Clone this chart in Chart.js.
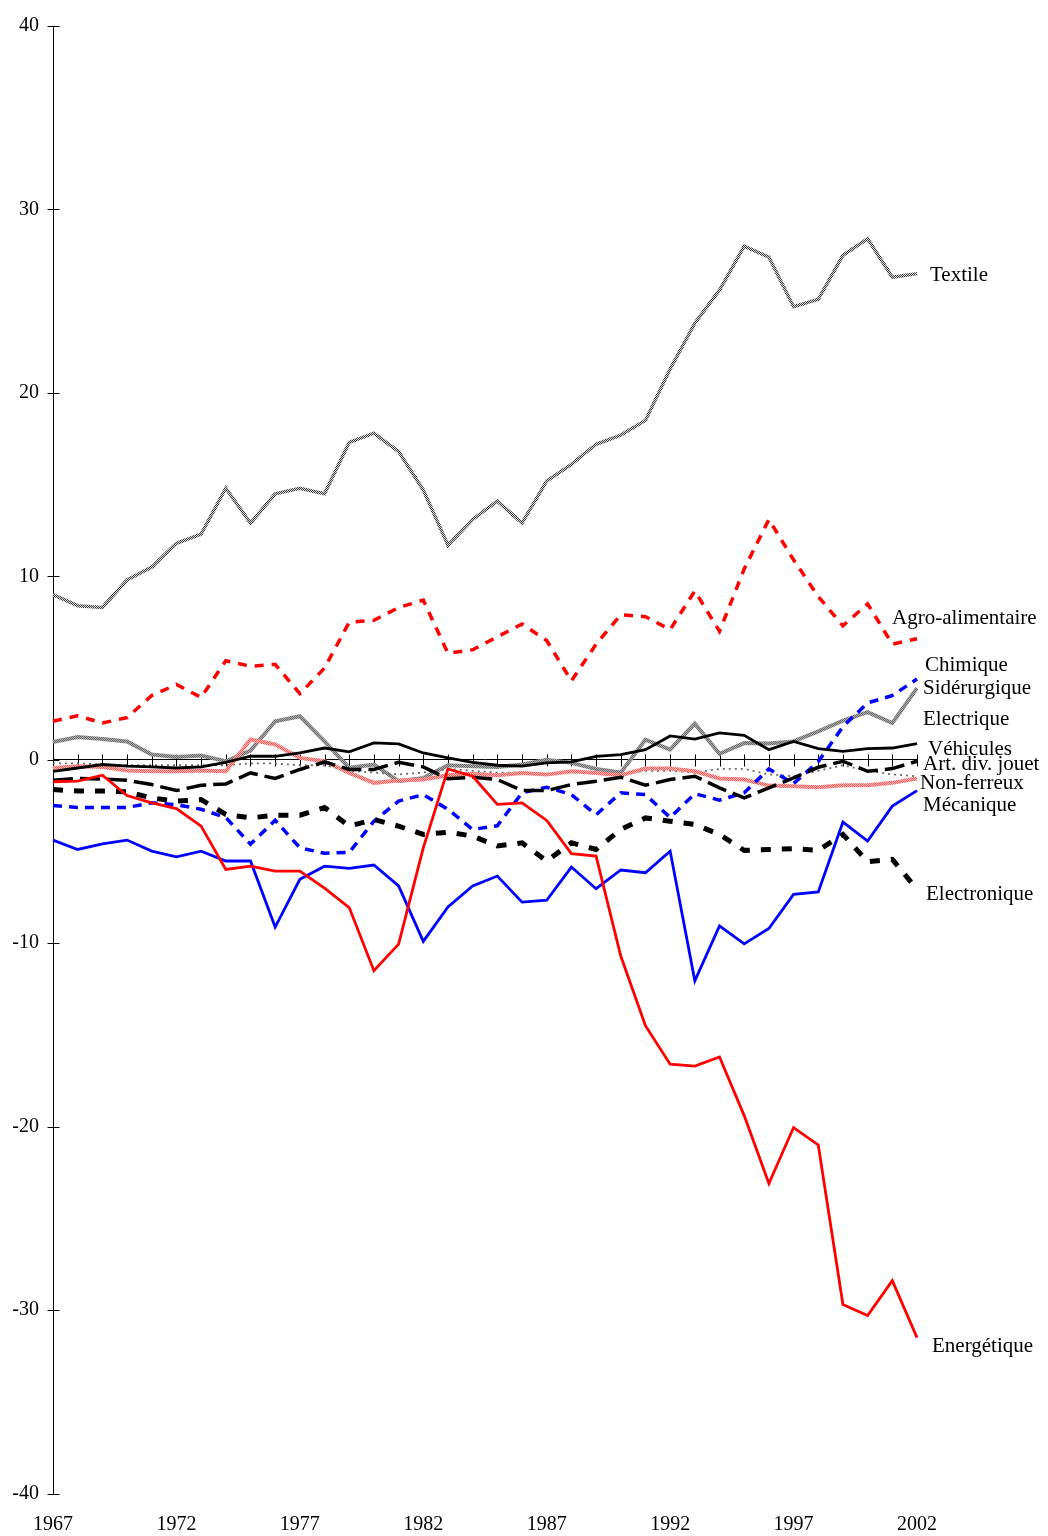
<!DOCTYPE html>
<html>
<head>
<meta charset="utf-8">
<script src="https://cdn.jsdelivr.net/npm/chart.js@4.4.1/dist/chart.umd.min.js"></script>
<style>
  html, body { margin: 0; padding: 0; background: #ffffff; }
  #wrap { width: 1048px; height: 1536px; position: relative; }
</style>
</head>
<body>
<div id="wrap"><canvas id="chart"></canvas></div>
<script>
// Years on the horizontal axis
const years = ['1967','1968','1969','1970','1971','1972','1973','1974','1975','1976',
  '1977','1978','1979','1980','1981','1982','1983','1984','1985','1986',
  '1987','1988','1989','1990','1991','1992','1993','1994','1995','1996',
  '1997','1998','1999','2000','2001','2002'];

// Sector balances, one value per year
const textile = [9.0, 8.4, 8.3, 9.8, 10.5, 11.8, 12.3, 14.8, 12.9, 14.5, 14.8, 14.5,
  17.3, 17.8, 16.8, 14.7, 11.7, 13.1, 14.1, 12.9, 15.2, 16.1, 17.2, 17.7,
  18.5, 21.3, 23.8, 25.6, 28.0, 27.4, 24.7, 25.1, 27.5, 28.4, 26.3, 26.5];
const agro = [2.1, 2.4, 2.0, 2.3, 3.5, 4.1, 3.4, 5.4, 5.1, 5.2, 3.6, 5.0,
  7.5, 7.6, 8.3, 8.7, 5.8, 6.0, 6.7, 7.4, 6.5, 4.3, 6.3, 7.9,
  7.8, 7.1, 9.2, 7.0, 10.4, 13.1, 10.9, 8.9, 7.3, 8.5, 6.3, 6.6];
const chimique = [-2.5, -2.6, -2.6, -2.6, -2.35, -2.45, -2.7, -3.15, -4.6, -3.3, -4.8, -5.1,
  -5.05, -3.35, -2.25, -1.9, -2.7, -3.8, -3.6, -1.8, -1.5, -1.9, -3.0, -1.8,
  -1.9, -3.15, -1.85, -2.2, -1.8, -0.5, -1.3, -0.1, 1.8, 3.1, 3.5, 4.4];
const siderurgique = [0.97, 1.24, 1.13, 1.0, 0.28, 0.15, 0.23, -0.08, 0.5, 2.1, 2.37, 1.0,
  -0.44, -0.26, -1.17, -0.99, -0.3, -0.35, -0.4, -0.26, 0.0, -0.17, -0.5, -0.7,
  1.1, 0.55, 1.97, 0.32, 0.91, 0.88, 1.0, 1.55, 2.13, 2.6, 2.0, 3.9];
const electrique = [-0.2, -0.2, -0.25, -0.3, -0.3, -0.3, -0.3, -0.3, -0.2, -0.2, -0.3, -0.3,
  -0.6, -0.7, -0.8, -0.7, -0.5, -0.6, -0.7, -0.7, -0.8, -0.7, -0.7, -0.8,
  -0.6, -0.6, -0.7, -0.5, -0.5, -0.8, -0.9, -0.6, -0.3, -0.6, -0.8, -0.9];
const vehicules = [-0.63, -0.45, -0.26, -0.35, -0.39, -0.45, -0.39, -0.14, 0.19, 0.19, 0.37, 0.64,
  0.43, 0.92, 0.86, 0.37, 0.1, -0.14, -0.3, -0.35, -0.17, -0.12, 0.19, 0.28,
  0.55, 1.3, 1.13, 1.46, 1.33, 0.55, 1.0, 0.61, 0.46, 0.61, 0.64, 0.88];
const artDivJouet = [-1.12, -1.02, -1.05, -1.12, -1.35, -1.68, -1.39, -1.32, -0.72, -1.02, -0.53, -0.12,
  -0.53, -0.53, -0.14, -0.39, -1.04, -0.95, -1.08, -1.68, -1.68, -1.35, -1.17, -0.95,
  -1.39, -1.08, -0.9, -1.53, -2.08, -1.53, -0.99, -0.41, -0.08, -0.63, -0.48, -0.08];
const nonFerreux = [-0.45, -0.35, -0.4, -0.59, -0.63, -0.63, -0.59, -0.63, 1.1, 0.83, 0.1, -0.08,
  -0.72, -1.26, -1.13, -1.08, -0.84, -0.77, -0.84, -0.72, -0.81, -0.63, -0.72, -0.84,
  -0.48, -0.48, -0.63, -1.02, -1.08, -1.41, -1.44, -1.5, -1.39, -1.39, -1.26, -1.02];
const mecanique = [-4.38, -4.89, -4.58, -4.38, -4.98, -5.29, -4.98, -5.52, -5.52, -9.12, -6.52, -5.8,
  -5.92, -5.74, -6.88, -9.9, -8.03, -6.88, -6.34, -7.76, -7.66, -5.85, -7.03, -6.01,
  -6.16, -4.98, -12.05, -9.06, -10.04, -9.2, -7.34, -7.21, -3.4, -4.43, -2.53, -1.68];
const electronique = [-1.62, -1.71, -1.71, -1.75, -2.08, -2.26, -2.17, -2.98, -3.17, -3.02, -3.02, -2.6,
  -3.62, -3.26, -3.62, -4.07, -3.95, -4.16, -4.7, -4.53, -5.52, -4.53, -4.89, -3.8,
  -3.17, -3.35, -3.53, -4.07, -4.94, -4.89, -4.85, -4.94, -4.07, -5.56, -5.43, -7.06];
const energetique = [-1.2, -1.17, -0.84, -1.95, -2.35, -2.66, -3.62, -5.98, -5.8, -6.07, -6.07, -7.0,
  -8.06, -11.5, -10.05, -4.8, -0.5, -0.9, -2.43, -2.35, -3.31, -5.12, -5.25, -10.7,
  -14.5, -16.6, -16.7, -16.2, -19.4, -23.1, -20.05, -21.0, -29.7, -30.3, -28.4, -31.5];

// Vertical axis range and step
const yMin = -40, yMax = 40, yStep = 10;

// Small two-tone tiles used to give some lines a grainy texture
function checker(a, b) {
  const c = document.createElement('canvas');
  c.width = 2; c.height = 2;
  const g = c.getContext('2d');
  g.fillStyle = b; g.fillRect(0, 0, 2, 2);
  g.fillStyle = a; g.fillRect(0, 0, 1, 1); g.fillRect(1, 1, 1, 1);
  return g.createPattern(c, 'repeat');
}
const ctx = document.getElementById('chart').getContext('2d');
const texTextile = checker('#3c3c3c', '#d8d8d8');
const texSider = checker('#666666', '#b0b0b0');
const texNonFer = checker('#ff5050', '#ffc0c0');

const serif = '"Liberation Serif", "DejaVu Serif", serif';

// Name written at the end of each line: text, anchor value, horizontal offset
const endLabels = {
  items: [
    { text: 'Textile', value: 26.4, dx: 13 },
    { text: 'Agro-alimentaire', value: 7.7, dx: -25 },
    { text: 'Chimique', value: 5.14, dx: 8 },
    { text: 'Sidérurgique', value: 3.89, dx: 6 },
    { text: 'Electrique', value: 2.2, dx: 6 },
    { text: 'Véhicules', value: 0.57, dx: 11 },
    { text: 'Art. div. jouet', value: -0.24, dx: 6 },
    { text: 'Non-ferreux', value: -1.28, dx: 3 },
    { text: 'Mécanique', value: -2.48, dx: 6 },
    { text: 'Electronique', value: -7.32, dx: 9 },
    { text: 'Energétique', value: -32.0, dx: 15 }
  ]
};

const axisMarks = {
  id: 'axisMarks',
  beforeDatasetsDraw(chart) {
    const c = chart.ctx, ys = chart.scales.y, xs = chart.scales.x;
    const left = Math.round(ys.right) + 0.5;
    c.save();
    c.strokeStyle = '#000';
    c.lineWidth = 1;
    c.beginPath();
    for (let v = yMin; v <= yMax; v += yStep) {
      const py = Math.round(ys.getPixelForValue(v)) + 0.5;
      c.moveTo(left - 6, py); c.lineTo(left + 6, py);
    }
    const y0 = Math.round(ys.getPixelForValue(0)) + 0.5;
    for (let i = 1; i < years.length; i++) {
      const px = Math.round(xs.getPixelForValue(i)) + 0.5;
      c.moveTo(px, y0 - 6); c.lineTo(px, y0 + 6);
    }
    c.stroke();
    c.restore();
  }
};

const lineEndLabels = {
  id: 'lineEndLabels',
  afterDraw(chart) {
    const c = chart.ctx, ys = chart.scales.y, xs = chart.scales.x;
    const xEnd = xs.getPixelForValue(years.length - 1);
    c.save();
    c.fillStyle = '#000';
    c.font = '21px ' + serif;
    c.textAlign = 'left';
    c.textBaseline = 'middle';
    endLabels.items.forEach(it => {
      c.fillText(it.text, xEnd + it.dx, ys.getPixelForValue(it.value));
    });
    c.restore();
  }
};

function series(label, data, color, width, dash, order) {
  return {
    label, data,
    borderColor: color,
    borderWidth: width,
    borderDash: dash,
    pointRadius: 0,
    pointHoverRadius: 0,
    tension: 0,
    fill: false,
    order,
    xAxisID: 'x',
    yAxisID: 'y'
  };
}

new Chart(ctx, {
  type: 'line',
  data: {
    labels: years,
    datasets: [
      series('Energétique', energetique, '#ff0000', 2.8, [], 0),
      series('Mécanique', mecanique, '#0000ff', 2.8, [], 1),
      series('Véhicules', vehicules, '#000000', 2.8, [], 2),
      series('Art. div. jouet', artDivJouet, '#000000', 3.5, [20, 7], 3),
      series('Electronique', electronique, '#000000', 5, [10, 11], 4),
      series('Chimique', chimique, '#0000ff', 3.5, [9, 7], 5),
      series('Agro-alimentaire', agro, '#ff0000', 3.5, [9, 8], 6),
      series('Non-ferreux', nonFerreux, texNonFer, 4, [], 7),
      series('Electrique', electrique, '#6a6a6a', 1.8, [2, 4], 8),
      series('Sidérurgique', siderurgique, texSider, 4, [], 9),
      series('Textile', textile, texTextile, 3.5, [], 10)
    ]
  },
  options: {
    responsive: true,
    maintainAspectRatio: false,
    animation: false,
    events: [],
    layout: { padding: { top: 23.5, right: 131, bottom: 0, left: 0 } },
    plugins: {
      legend: { display: false },
      tooltip: { enabled: false },
      title: { display: false }
    },
    scales: {
      x: {
        type: 'category',
        position: { y: 0 },
        offset: false,
        grid: { drawOnChartArea: false, drawTicks: false },
        border: { display: true, color: '#000', width: 1 },
        ticks: { display: false }
      },
      x2: {
        type: 'category',
        position: 'bottom',
        offset: false,
        grid: { drawOnChartArea: false, drawTicks: false },
        border: { display: false },
        ticks: {
          autoSkip: false,
          maxRotation: 0,
          minRotation: 0,
          padding: 19,
          color: '#000',
          font: { family: serif, size: 20 },
          callback: function (val, idx) { return idx % 5 === 0 ? years[idx] : ''; }
        },
        afterFit(scale) { scale.height = 42.5; }
      },
      y: {
        type: 'linear',
        position: 'left',
        min: yMin,
        max: yMax,
        grid: { drawOnChartArea: false, drawTicks: false },
        border: { display: true, color: '#000', width: 1 },
        ticks: {
          stepSize: yStep,
          padding: 14,
          color: '#000',
          font: { family: serif, size: 20 },
          callback: v => String(v)
        },
        afterFit(scale) { scale.width = 53; }
      }
    }
  },
  plugins: [axisMarks, lineEndLabels]
});
</script>
</body>
</html>
